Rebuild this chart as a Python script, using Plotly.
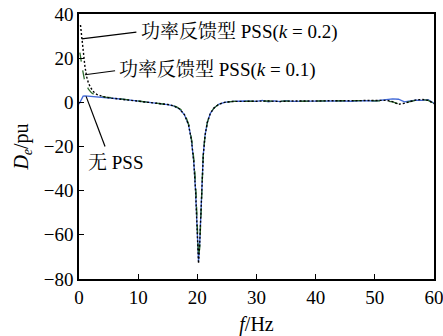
import plotly.graph_objects as go

# ---- data ----
f_none = [0, 0.3, 0.7, 1.0, 2, 3, 5, 7, 9, 11, 13, 15, 16, 17, 17.8, 18.5, 19.0, 19.4,
          19.7, 19.9, 20.05, 20.2, 20.4, 20.6, 20.8, 21.0, 21.3, 21.7, 22.2, 22.8, 23.6,
          24.6, 26, 28, 30, 31, 32, 33, 34, 35, 36, 38, 40, 42, 44, 46, 48, 50, 51, 52,
          53, 54, 55, 56, 57, 58, 59, 60]
d_none = [-0.8, 0.6, 2.8, 2.9, 2.7, 2.4, 2.0, 1.5, 0.9, 0.3, -0.3, -1.0, -1.6, -3.0,
          -5.5, -10, -17, -27, -40, -55, -66, -72, -64, -48, -34, -24, -15, -9, -5,
          -2.6, -0.9, 0.0, 0.4, 0.6, 0.4, 0.9, 0.2, 0.7, 0.3, 0.8, 0.4, 0.5, 0.6, 0.4,
          0.7, 0.5, 0.8, 0.6, 0.9, 1.1, 1.6, 1.4, 0.2, 0.6, 1.0, 0.9, 1.2, -0.4]

f_k01 = [0.15, 0.3, 0.6, 0.9, 1.2, 1.6, 2.1, 2.7, 3.5, 4.5, 6, 8, 10, 12, 14, 15.5, 16.5,
         17.3, 18.0, 18.6, 19.1, 19.5, 19.8, 20.0, 20.2, 20.4, 20.6, 20.8, 21.0, 21.3,
         21.7, 22.2, 22.8, 23.6, 24.6, 26, 28, 30, 32, 34, 36, 38, 40, 42, 44, 46, 48,
         50, 52, 53, 54, 55, 56, 57, 58, 59, 60]
d_k01 = [22.5, 19.0, 14.8, 10.5, 8.0, 6.0, 4.3, 3.4, 2.8, 2.4, 1.9, 1.3, 0.7, 0.1, -0.5,
         -1.2, -2.0, -3.5, -6.0, -10.5, -18, -28, -42, -58, -70, -66, -50, -35, -24,
         -15, -9, -5, -2.6, -0.9, 0.0, 0.4, 0.6, 0.5, 0.6, 0.5, 0.6, 0.5, 0.6, 0.7,
         0.6, 0.7, 0.8, 0.7, 0.6, 0.2, -0.7, -0.3, 0.5, 1.0, 1.3, 0.9, -0.5]

f_k02 = [0.25, 0.4, 0.6, 0.8, 1.0, 1.3, 1.6, 2.0, 2.5, 3.0, 4.0, 5.2, 7, 9, 11, 13, 15,
         16, 17, 17.8, 18.5, 19.0, 19.4, 19.7, 19.9, 20.05, 20.2, 20.4, 20.6, 20.8, 21.0,
         21.3, 21.7, 22.2, 22.8, 23.6, 24.6, 26, 28, 30, 32, 34, 36, 38, 40, 42, 44, 46,
         48, 50, 51, 52, 53, 54, 55, 56, 57, 58, 59, 60]
d_k02 = [35.0, 31.0, 25.0, 20.0, 16.3, 11.5, 8.7, 6.5, 4.7, 3.6, 2.6, 2.0, 1.5, 0.9, 0.3,
         -0.3, -1.0, -1.6, -3.0, -5.5, -10, -17, -27, -40, -55, -66, -73, -64, -48, -34,
         -24, -15, -9, -5, -2.6, -0.9, 0.0, 0.4, 0.6, 0.5, 0.6, 0.4, 0.6, 0.5, 0.6, 0.7,
         0.6, 0.7, 0.8, 0.7, 0.8, 0.9, 0.3, -0.9, -0.4, 0.5, 1.1, 1.3, 0.9, -0.6]

x_ticks = [0, 10, 20, 30, 40, 50, 60]
y_ticks = [-80, -60, -40, -20, 0, 20, 40]

# annotation anchors (data units)
ann_text = ["功率反馈型 PSS(<i>k</i> = 0.2)", "功率反馈型 PSS(<i>k</i> = 0.1)", "无 PSS"]
ann_tip = [(0.46, 28.7), (1.0, 12.5), (1.2, 2.7)]
ann_tail = [(9.7, 31.8), (6.1, 14.3), (4.4, -20.0)]
ann_pos = [(10.1, 31.8), (6.4, 14.6), (1.1, -27.4)]

FONT = "Liberation Serif, Times New Roman, Noto Serif CJK SC, Noto Sans CJK SC, serif"

fig = go.Figure()
fig.add_trace(go.Scatter(x=f_none, y=d_none, mode="lines",
                         line=dict(color="#4169d8", width=1.3), name="无 PSS"))
fig.add_trace(go.Scatter(x=f_k01, y=d_k01, mode="lines",
                         line=dict(color="#2e6b2e", width=1.3, dash="dash"), name="k=0.1"))
fig.add_trace(go.Scatter(x=f_k02, y=d_k02, mode="lines",
                         line=dict(color="#000000", width=1.4, dash="2px,2px"), name="k=0.2"))

for (tx, ty), (ax, ay), (px, py), t in zip(ann_tip, ann_tail, ann_pos, ann_text):
    fig.add_shape(type="line", xref="x", yref="y", x0=tx, y0=ty, x1=ax, y1=ay,
                  line=dict(color="black", width=1.2))
    fig.add_annotation(x=px, y=py, xref="x", yref="y", text=t, showarrow=False,
                       xanchor="left", yanchor="middle",
                       font=dict(family=FONT, size=19, color="black"))

fig.update_layout(
    width=443, height=336,
    margin=dict(l=79, r=9, t=14, b=57),
    paper_bgcolor="white", plot_bgcolor="white",
    showlegend=False,
    font=dict(family=FONT, size=19, color="black"),
)
fig.update_xaxes(range=[0, 60], tickvals=x_ticks, ticks="inside", ticklen=5,
                 tickcolor="black", showline=True, linecolor="black", linewidth=1.5,
                 mirror=True, showgrid=False, zeroline=False, automargin=False,
                 ticklabeloverflow="allow",
                 title=dict(text="<i>f</i>/Hz", standoff=10, font=dict(size=20)))
fig.update_yaxes(range=[-80, 40], tickvals=y_ticks, ticks="inside", ticklen=5,
                 tickcolor="black", showline=True, linecolor="black", linewidth=1.5,
                 mirror=True, showgrid=False, zeroline=False, automargin=False,
                 ticklabeloverflow="allow",
                 title=dict(text="<i>D</i><sub><i>e</i></sub>/pu", standoff=10,
                            font=dict(size=20)))

# remove the page's default body margin so the figure fills the window exactly
fig.write_html("out.html", config={"displayModeBar": False},
               post_script="document.body.style.margin='0px';")
